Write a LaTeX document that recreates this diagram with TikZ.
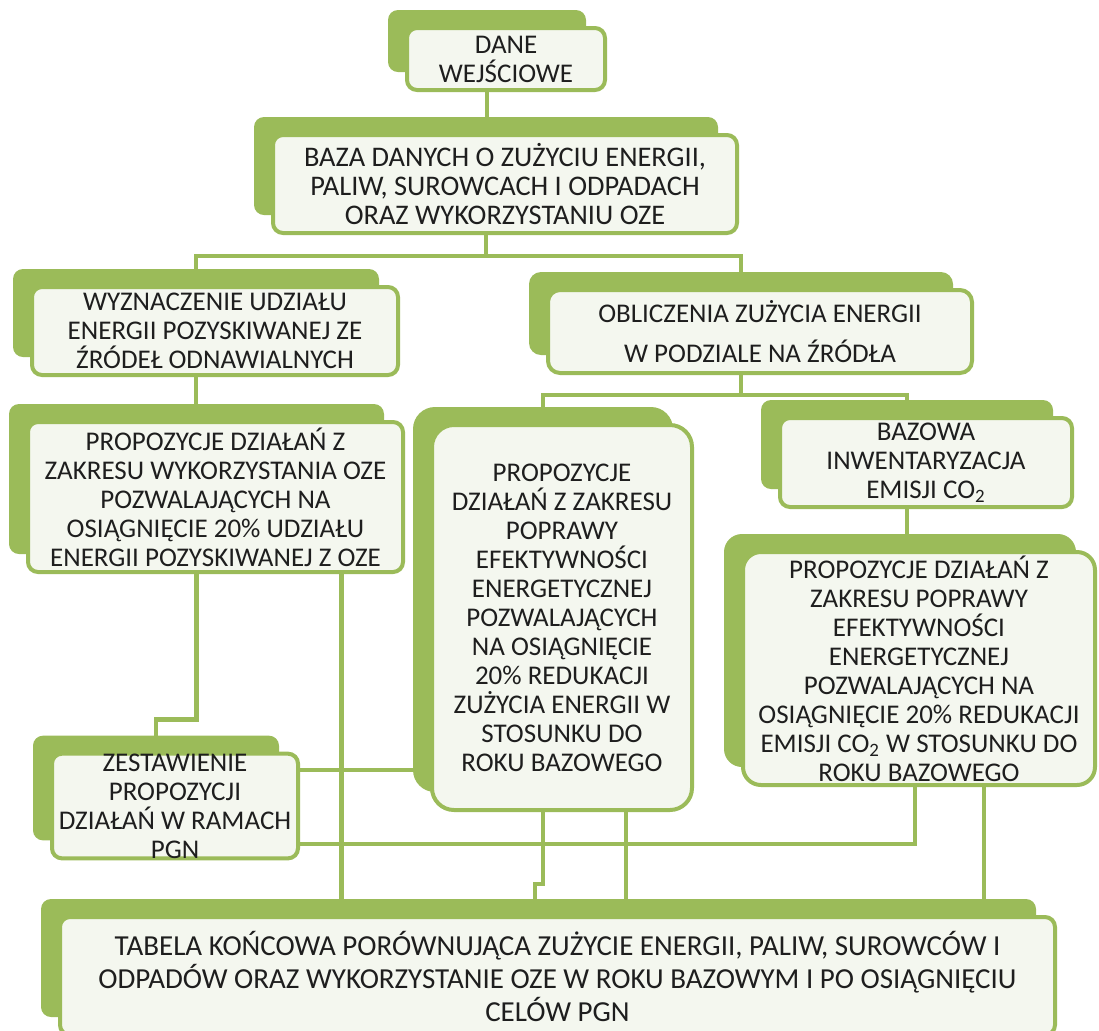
\documentclass[tikz,border=0pt]{standalone}
\usepackage{fontspec}
\setmainfont{Carlito}
\usepackage{xcolor}
\usepackage{tikz}
\usetikzlibrary{shadows}
\definecolor{LeafGreen}{HTML}{9BBB59}
\definecolor{PaneWhite}{HTML}{F4F7EF}
\definecolor{InkGray}{HTML}{1E1E1E}

\begin{document}
\begin{tikzpicture}[x=0.5pt, y=-0.5pt,
    pane/.style={draw=LeafGreen, line width=2pt, fill=PaneWhite, rounded corners=5pt,
      inner sep=0pt, align=center, text=InkGray, font=\fontsize{13.5}{14.5}\selectfont,
      general shadow={fill=LeafGreen, shadow xshift=-9.5pt, shadow yshift=9pt}},
    wire/.style={draw=LeafGreen, line width=2.2pt}]
  \useasboundingbox (0,0) rectangle (1099,1030);

  % Boxes
  \node[pane, minimum width=99pt, minimum height=31pt] (dane) at (506,59) {DANE\\WEJŚCIOWE};
  \node[pane, font=\fontsize{14.2}{14.5}\selectfont, minimum width=232pt, minimum height=49pt] (baza) at (505,184)
    {BAZA DANYCH O ZUŻYCIU ENERGII,\\PALIW, SUROWCACH I ODPADACH\\ORAZ WYKORZYSTANIU OZE};
  \node[pane, minimum width=183pt, minimum height=44pt] (wyzn) at (215,331)
    {WYZNACZENIE UDZIAŁU\\ENERGII POZYSKIWANEJ ZE\\ŹRÓDEŁ ODNAWIALNYCH};
  \node[pane, rounded corners=6pt, minimum width=212pt, minimum height=41.5pt] (oblicz) at (760,331.5)
    {OBLICZENIA ZUŻYCIA ENERGII\\[5.5pt]W PODZIALE NA ŹRÓDŁA};
  \node[pane, minimum width=187.5pt, minimum height=75pt] (oze) at (215.5,497)
    {PROPOZYCJE DZIAŁAŃ Z\\ZAKRESU WYKORZYSTANIA OZE\\POZWALAJĄCYCH NA\\OSIĄGNIĘCIE 20\% UDZIAŁU\\ENERGII POZYSKIWANEJ Z OZE};
  \node[pane, minimum width=123pt, minimum height=51pt] (zest) at (175,806)
    {ZESTAWIENIE\\PROPOZYCJI\\DZIAŁAŃ W RAMACH\\PGN};
  \node[pane, rounded corners=11pt, minimum width=130pt, minimum height=192.5pt] (efekt) at (562,617.5)
    {PROPOZYCJE\\DZIAŁAŃ Z ZAKRESU\\POPRAWY\\EFEKTYWNOŚCI\\ENERGETYCZNEJ\\POZWALAJĄCYCH\\NA OSIĄGNIĘCIE\\20\% REDUKACJI\\ZUŻYCIA ENERGII W\\STOSUNKU DO\\ROKU BAZOWEGO};
  \node[pane, minimum width=146pt, minimum height=44.5pt] (bazowa) at (926,462.5)
    {BAZOWA\\INWENTARYZACJA\\EMISJI CO\textsubscript{2}};
  \node[pane, rounded corners=9pt, minimum width=176pt, minimum height=116.5pt] (emisja) at (919,668.5)
    {PROPOZYCJE DZIAŁAŃ Z\\ZAKRESU POPRAWY\\EFEKTYWNOŚCI\\ENERGETYCZNEJ\\POZWALAJĄCYCH NA\\OSIĄGNIĘCIE 20\% REDUKACJI\\EMISJI CO\textsubscript{2} W STOSUNKU DO\\ROKU BAZOWEGO};
  \node[pane, font=\fontsize{14.5}{16.5}\selectfont, minimum width=497.5pt, minimum height=59pt] (tabela) at (557.5,976)
    {TABELA KOŃCOWA PORÓWNUJĄCA ZUŻYCIE ENERGII, PALIW, SUROWCÓW I\\ODPADÓW ORAZ WYKORZYSTANIE OZE W ROKU BAZOWYM I PO OSIĄGNIĘCIU\\CELÓW PGN};

  % Connectors
  \draw[wire] ([xshift=-9.5pt]dane.south) -- ([xshift=-9.5pt]dane.south |- baza.north);
  \draw[wire] ([xshift=-9.5pt]baza.south) -- ++(0,-10.5pt) coordinate (fork1) -| ([xshift=-9.5pt]wyzn.north);
  \draw[wire] (fork1) -| ([xshift=-9.5pt]oblicz.north);
  \draw[wire] ([xshift=-9.5pt]wyzn.south) -- ([xshift=-9.5pt]wyzn.south |- oze.north);
  \draw[wire] ([xshift=-9.5pt]oblicz.south) -- ++(0,-10pt) coordinate (fork2) -| ([xshift=-9.5pt]efekt.north);
  \draw[wire] (fork2) -| ([xshift=-9.5pt]bazowa.north);
  \draw[wire] ([xshift=-9.5pt]bazowa.south) -- ([xshift=-9.5pt]bazowa.south |- emisja.north);

  \coordinate (zestIn) at ([shift={(-9.5pt,16pt)}]zest.north);
  \coordinate (efektIn) at ([xshift=-7pt]efekt.west);
  \draw[wire] ([xshift=-9.5pt]oze.south) |- (zestIn) -- ([xshift=-9.5pt]zest.north);
  \draw[wire] ([xshift=63pt]oze.south) -- ([xshift=63pt]oze.south |- tabela.north);
  \draw[wire] ([yshift=18pt]zest.east) -- ([yshift=18pt]zest.east -| efektIn);
  \draw[wire] ([yshift=-19pt]zest.east) -| ([xshift=-2pt]emisja.south);

  \draw[wire] ([xshift=-9.5pt]efekt.south) -- ++(0,-36pt) -| ([xshift=-13.5pt]efekt.south |- tabela.north);
  \draw[wire] ([xshift=32pt]efekt.south) -- ([xshift=32pt]efekt.south |- tabela.north);
  \draw[wire] ([xshift=32.5pt]emisja.south) -- ([xshift=32.5pt]emisja.south |- tabela.north);
\end{tikzpicture}
\end{document}
